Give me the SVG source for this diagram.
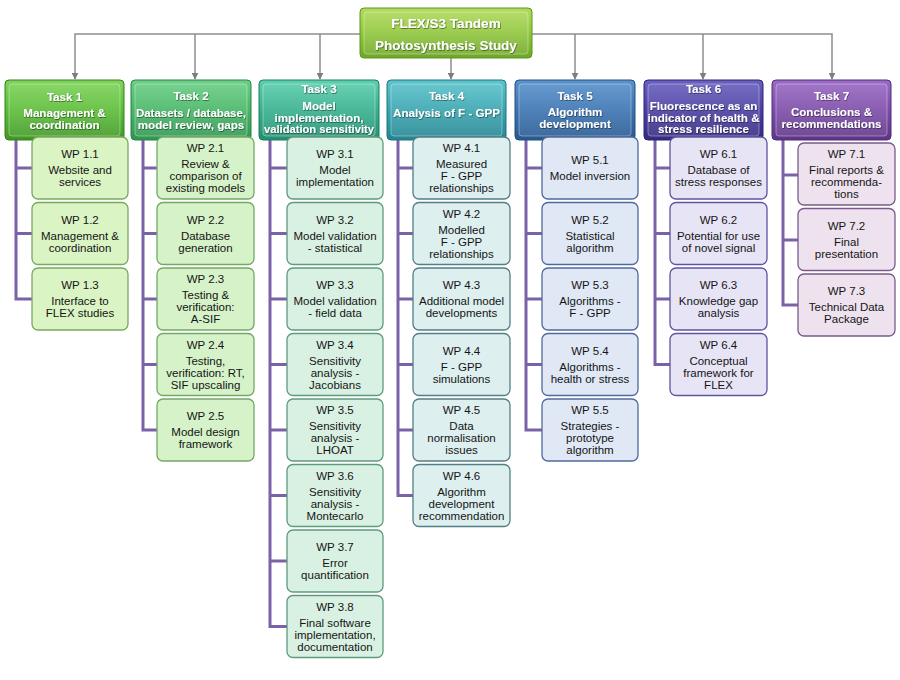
<svg xmlns="http://www.w3.org/2000/svg" width="900" height="680" viewBox="0 0 900 680">
<defs>
<style>
.tt{font-family:"Liberation Sans",Arial,sans-serif;font-weight:bold;font-size:11.6px;fill:#fff;text-anchor:middle}
.rt{font-family:"Liberation Sans",Arial,sans-serif;font-weight:bold;font-size:13.5px;fill:#fff;text-anchor:middle}
.wt{font-family:"Liberation Sans",Arial,sans-serif;font-size:11.5px;fill:#151515;text-anchor:middle}
.bev{fill:#fff;fill-opacity:0.10;stroke:#fff;stroke-opacity:0.35;stroke-width:1}
.c1{fill:#daf4c4;stroke:#7aa860}
.c2{fill:#d6f2c8;stroke:#74a866}
.c3{fill:#d9f1e2;stroke:#5e9a7e}
.c4{fill:#ddefef;stroke:#527f86}
.c5{fill:#e0e8f5;stroke:#4f6a9a}
.c6{fill:#e7e4f5;stroke:#5d55a0}
.c7{fill:#eee2ef;stroke:#7a5a8a}
.wp rect{stroke-width:1.3}
.gl{fill:none;stroke:#8e8e8e;stroke-width:1.5}
.pl{fill:none;stroke:#7b62a8;stroke-width:3}
</style>
<marker id="ah" viewBox="0 0 10 10" refX="9" refY="5" markerWidth="7" markerHeight="7" orient="auto" markerUnits="userSpaceOnUse">
<path d="M0,0 L10,5 L0,10 z" fill="#7e7e7e"/>
</marker>
<filter id="sh" x="-10%" y="-10%" width="120%" height="130%"><feDropShadow dx="0.6" dy="0.8" stdDeviation="0.4" flood-color="#000" flood-opacity="0.55"/></filter>
<linearGradient id="g0" x1="0" y1="0" x2="0" y2="1"><stop offset="0" stop-color="#b2dc5c"/><stop offset="0.5" stop-color="#90c63c"/><stop offset="1" stop-color="#6ea628"/></linearGradient>
<linearGradient id="g1" x1="0" y1="0" x2="0" y2="1"><stop offset="0" stop-color="#7ed45a"/><stop offset="0.5" stop-color="#5cbd38"/><stop offset="1" stop-color="#3f9624"/></linearGradient>
<linearGradient id="g2" x1="0" y1="0" x2="0" y2="1"><stop offset="0" stop-color="#6ccf86"/><stop offset="0.5" stop-color="#47b666"/><stop offset="1" stop-color="#2f9550"/></linearGradient>
<linearGradient id="g3" x1="0" y1="0" x2="0" y2="1"><stop offset="0" stop-color="#5ccfae"/><stop offset="0.5" stop-color="#36b08e"/><stop offset="1" stop-color="#238f70"/></linearGradient>
<linearGradient id="g4" x1="0" y1="0" x2="0" y2="1"><stop offset="0" stop-color="#5cc4cc"/><stop offset="0.5" stop-color="#38a5b0"/><stop offset="1" stop-color="#24848f"/></linearGradient>
<linearGradient id="g5" x1="0" y1="0" x2="0" y2="1"><stop offset="0" stop-color="#5a92cc"/><stop offset="0.5" stop-color="#3a74b2"/><stop offset="1" stop-color="#275890"/></linearGradient>
<linearGradient id="g6" x1="0" y1="0" x2="0" y2="1"><stop offset="0" stop-color="#6a60c0"/><stop offset="0.5" stop-color="#4a3fa2"/><stop offset="1" stop-color="#342a80"/></linearGradient>
<linearGradient id="g7" x1="0" y1="0" x2="0" y2="1"><stop offset="0" stop-color="#9a6ac6"/><stop offset="0.5" stop-color="#7c4ca8"/><stop offset="1" stop-color="#5e3488"/></linearGradient>
</defs>
<rect width="900" height="680" fill="#ffffff"/>

<g id="connectors">
<path class="gl" d="M360,34 H75 V79"  marker-end="url(#ah)"/>
<path class="gl" d="M195,34 V79" marker-end="url(#ah)"/>
<path class="gl" d="M320,34 V79" marker-end="url(#ah)"/>
<path class="gl" d="M451,58 V79" marker-end="url(#ah)"/>
<path class="gl" d="M532,34 H832 V79" marker-end="url(#ah)"/>
<path class="gl" d="M575,34 V79" marker-end="url(#ah)"/>
<path class="gl" d="M703,34 V79" marker-end="url(#ah)"/>
<path class="pl" d="M16,140 V299 H32 M16,168 H32 M16,233.5 H32"/>
<path class="pl" d="M143,140 V430 H157 M143,168 H157 M143,233.5 H157 M143,299 H157 M143,364.5 H157"/>
<path class="pl" d="M270,140 V626.5 H287 M270,168 H287 M270,233.5 H287 M270,299 H287 M270,364.5 H287 M270,430 H287 M270,495.5 H287 M270,561 H287"/>
<path class="pl" d="M398,140 V495.5 H413 M398,168 H413 M398,233.5 H413 M398,299 H413 M398,364.5 H413 M398,430 H413"/>
<path class="pl" d="M526,140 V430 H542 M526,168 H542 M526,233.5 H542 M526,299 H542 M526,364.5 H542"/>
<path class="pl" d="M655,140 V364.5 H670 M655,168 H670 M655,233.5 H670 M655,299 H670"/>
<path class="pl" d="M783,140 V305 H798 M783,175 H798 M783,240 H798"/>
</g>

<g id="root">
<rect x="360" y="8" width="172" height="50" rx="4" fill="url(#g0)" stroke="#5f9422" stroke-width="1"/>
<rect class="bev" x="364" y="12" width="164" height="42" rx="3"/>
<text class="rt" x="446" y="28" filter="url(#sh)">FLEX/S3 Tandem</text>
<text class="rt" x="446" y="50" filter="url(#sh)">Photosynthesis Study</text>
</g>

<g id="task1">
<rect x="5" y="80" width="119" height="60" rx="4" fill="url(#g1)" stroke="#34801c"/>
<rect class="bev" x="9" y="84" width="111" height="52" rx="3"/>
<text class="tt" x="64.5" y="100.5" filter="url(#sh)">Task 1</text>
<text class="tt" x="64.5" y="117" filter="url(#sh)">Management &amp;</text>
<text class="tt" x="64.5" y="129" filter="url(#sh)">coordination</text>
</g>
<g id="task2">
<rect x="131" y="80" width="120" height="60" rx="4" fill="url(#g2)" stroke="#2a8246"/>
<rect class="bev" x="135" y="84" width="112" height="52" rx="3"/>
<text class="tt" x="191" y="100" filter="url(#sh)">Task 2</text>
<text class="tt" x="191" y="117" filter="url(#sh)" textLength="110" lengthAdjust="spacingAndGlyphs">Datasets / database,</text>
<text class="tt" x="191" y="129" filter="url(#sh)">model review, gaps</text>
</g>
<g id="task3">
<rect x="259" y="80" width="120" height="60" rx="4" fill="url(#g3)" stroke="#1f7c62"/>
<rect class="bev" x="263" y="84" width="112" height="52" rx="3"/>
<text class="tt" x="319" y="93" filter="url(#sh)">Task 3</text>
<text class="tt" x="319" y="110" filter="url(#sh)">Model</text>
<text class="tt" x="319" y="121.5" filter="url(#sh)">implementation,</text>
<text class="tt" x="319" y="133" filter="url(#sh)" textLength="110" lengthAdjust="spacingAndGlyphs">validation sensitivity</text>
</g>
<g id="task4">
<rect x="387" y="80" width="119" height="60" rx="4" fill="url(#g4)" stroke="#1f7480"/>
<rect class="bev" x="391" y="84" width="111" height="52" rx="3"/>
<text class="tt" x="446.5" y="100" filter="url(#sh)">Task 4</text>
<text class="tt" x="446.5" y="117" filter="url(#sh)">Analysis of F - GPP</text>
</g>
<g id="task5">
<rect x="515" y="80" width="120" height="60" rx="4" fill="url(#g5)" stroke="#224e80"/>
<rect class="bev" x="519" y="84" width="112" height="52" rx="3"/>
<text class="tt" x="575" y="100" filter="url(#sh)">Task 5</text>
<text class="tt" x="575" y="116" filter="url(#sh)">Algorithm</text>
<text class="tt" x="575" y="128" filter="url(#sh)">development</text>
</g>
<g id="task6">
<rect x="644" y="80" width="119" height="60" rx="4" fill="url(#g6)" stroke="#2c2370"/>
<rect class="bev" x="648" y="84" width="111" height="52" rx="3"/>
<text class="tt" x="703.5" y="93" filter="url(#sh)">Task 6</text>
<text class="tt" x="703.5" y="110" filter="url(#sh)">Fluorescence as an</text>
<text class="tt" x="703.5" y="121.5" filter="url(#sh)">indicator of health &amp;</text>
<text class="tt" x="703.5" y="133" filter="url(#sh)">stress resilience</text>
</g>
<g id="task7">
<rect x="772" y="80" width="119" height="60" rx="4" fill="url(#g7)" stroke="#512c78"/>
<rect class="bev" x="776" y="84" width="111" height="52" rx="3"/>
<text class="tt" x="831.5" y="100" filter="url(#sh)">Task 7</text>
<text class="tt" x="831.5" y="116" filter="url(#sh)">Conclusions &amp;</text>
<text class="tt" x="831.5" y="128" filter="url(#sh)">recommendations</text>
</g>

<!-- Column 1 -->
<g id="wp1-1" class="wp"><rect class="c1" x="32" y="137" width="96" height="62" rx="6"/>
<text class="wt" x="80" y="158">WP 1.1</text><text class="wt" x="80" y="174">Website and</text><text class="wt" x="80" y="186">services</text></g>
<g id="wp1-2" class="wp"><rect class="c1" x="32" y="202.5" width="96" height="62" rx="6"/>
<text class="wt" x="80" y="223.5">WP 1.2</text><text class="wt" x="80" y="239.5">Management &amp;</text><text class="wt" x="80" y="251.5">coordination</text></g>
<g id="wp1-3" class="wp"><rect class="c1" x="32" y="268" width="96" height="62" rx="6"/>
<text class="wt" x="80" y="289">WP 1.3</text><text class="wt" x="80" y="305">Interface to</text><text class="wt" x="80" y="317">FLEX studies</text></g>

<!-- Column 2 -->
<g id="wp2-1" class="wp"><rect class="c2" x="157" y="137" width="97" height="62" rx="6"/>
<text class="wt" x="205.5" y="152">WP 2.1</text><text class="wt" x="205.5" y="168">Review &amp;</text><text class="wt" x="205.5" y="180">comparison of</text><text class="wt" x="205.5" y="192">existing models</text></g>
<g id="wp2-2" class="wp"><rect class="c2" x="157" y="202.5" width="97" height="62" rx="6"/>
<text class="wt" x="205.5" y="223.5">WP 2.2</text><text class="wt" x="205.5" y="239.5">Database</text><text class="wt" x="205.5" y="251.5">generation</text></g>
<g id="wp2-3" class="wp"><rect class="c2" x="157" y="268" width="97" height="62" rx="6"/>
<text class="wt" x="205.5" y="283">WP 2.3</text><text class="wt" x="205.5" y="299">Testing &amp;</text><text class="wt" x="205.5" y="311">verification:</text><text class="wt" x="205.5" y="323">A-SIF</text></g>
<g id="wp2-4" class="wp"><rect class="c2" x="157" y="333.5" width="97" height="62" rx="6"/>
<text class="wt" x="205.5" y="348.5">WP 2.4</text><text class="wt" x="205.5" y="364.5">Testing,</text><text class="wt" x="205.5" y="376.5">verification: RT,</text><text class="wt" x="205.5" y="388.5">SIF upscaling</text></g>
<g id="wp2-5" class="wp"><rect class="c2" x="157" y="399" width="97" height="62" rx="6"/>
<text class="wt" x="205.5" y="420">WP 2.5</text><text class="wt" x="205.5" y="436">Model design</text><text class="wt" x="205.5" y="448">framework</text></g>

<!-- Column 3 -->
<g id="wp3-1" class="wp"><rect class="c3" x="287" y="137" width="96" height="62" rx="6"/>
<text class="wt" x="335" y="158">WP 3.1</text><text class="wt" x="335" y="174">Model</text><text class="wt" x="335" y="186">implementation</text></g>
<g id="wp3-2" class="wp"><rect class="c3" x="287" y="202.5" width="96" height="62" rx="6"/>
<text class="wt" x="335" y="223.5">WP 3.2</text><text class="wt" x="335" y="239.5">Model validation</text><text class="wt" x="335" y="251.5">- statistical</text></g>
<g id="wp3-3" class="wp"><rect class="c3" x="287" y="268" width="96" height="62" rx="6"/>
<text class="wt" x="335" y="289">WP 3.3</text><text class="wt" x="335" y="305">Model validation</text><text class="wt" x="335" y="317">- field data</text></g>
<g id="wp3-4" class="wp"><rect class="c3" x="287" y="333.5" width="96" height="62" rx="6"/>
<text class="wt" x="335" y="348.5">WP 3.4</text><text class="wt" x="335" y="364.5">Sensitivity</text><text class="wt" x="335" y="376.5">analysis -</text><text class="wt" x="335" y="388.5">Jacobians</text></g>
<g id="wp3-5" class="wp"><rect class="c3" x="287" y="399" width="96" height="62" rx="6"/>
<text class="wt" x="335" y="414">WP 3.5</text><text class="wt" x="335" y="430">Sensitivity</text><text class="wt" x="335" y="442">analysis -</text><text class="wt" x="335" y="454">LHOAT</text></g>
<g id="wp3-6" class="wp"><rect class="c3" x="287" y="464.5" width="96" height="62" rx="6"/>
<text class="wt" x="335" y="479.5">WP 3.6</text><text class="wt" x="335" y="495.5">Sensitivity</text><text class="wt" x="335" y="507.5">analysis -</text><text class="wt" x="335" y="519.5">Montecarlo</text></g>
<g id="wp3-7" class="wp"><rect class="c3" x="287" y="530" width="96" height="62" rx="6"/>
<text class="wt" x="335" y="551">WP 3.7</text><text class="wt" x="335" y="567">Error</text><text class="wt" x="335" y="579">quantification</text></g>
<g id="wp3-8" class="wp"><rect class="c3" x="287" y="595.5" width="96" height="62" rx="6"/>
<text class="wt" x="335" y="610.5">WP 3.8</text><text class="wt" x="335" y="626.5">Final software</text><text class="wt" x="335" y="638.5">implementation,</text><text class="wt" x="335" y="650.5">documentation</text></g>

<!-- Column 4 -->
<g id="wp4-1" class="wp"><rect class="c4" x="413" y="137" width="97" height="62" rx="6"/>
<text class="wt" x="461.5" y="152">WP 4.1</text><text class="wt" x="461.5" y="168">Measured</text><text class="wt" x="461.5" y="180">F - GPP</text><text class="wt" x="461.5" y="192">relationships</text></g>
<g id="wp4-2" class="wp"><rect class="c4" x="413" y="202.5" width="97" height="62" rx="6"/>
<text class="wt" x="461.5" y="217.5">WP 4.2</text><text class="wt" x="461.5" y="233.5">Modelled</text><text class="wt" x="461.5" y="245.5">F - GPP</text><text class="wt" x="461.5" y="257.5">relationships</text></g>
<g id="wp4-3" class="wp"><rect class="c4" x="413" y="268" width="97" height="62" rx="6"/>
<text class="wt" x="461.5" y="289">WP 4.3</text><text class="wt" x="461.5" y="305">Additional model</text><text class="wt" x="461.5" y="317">developments</text></g>
<g id="wp4-4" class="wp"><rect class="c4" x="413" y="333.5" width="97" height="62" rx="6"/>
<text class="wt" x="461.5" y="354.5">WP 4.4</text><text class="wt" x="461.5" y="370.5">F - GPP</text><text class="wt" x="461.5" y="382.5">simulations</text></g>
<g id="wp4-5" class="wp"><rect class="c4" x="413" y="399" width="97" height="62" rx="6"/>
<text class="wt" x="461.5" y="414">WP 4.5</text><text class="wt" x="461.5" y="430">Data</text><text class="wt" x="461.5" y="442">normalisation</text><text class="wt" x="461.5" y="454">issues</text></g>
<g id="wp4-6" class="wp"><rect class="c4" x="413" y="464.5" width="97" height="62" rx="6"/>
<text class="wt" x="461.5" y="479.5">WP 4.6</text><text class="wt" x="461.5" y="495.5">Algorithm</text><text class="wt" x="461.5" y="507.5">development</text><text class="wt" x="461.5" y="519.5">recommendation</text></g>

<!-- Column 5 -->
<g id="wp5-1" class="wp"><rect class="c5" x="542" y="137" width="96" height="62" rx="6"/>
<text class="wt" x="590" y="164">WP 5.1</text><text class="wt" x="590" y="180">Model inversion</text></g>
<g id="wp5-2" class="wp"><rect class="c5" x="542" y="202.5" width="96" height="62" rx="6"/>
<text class="wt" x="590" y="223.5">WP 5.2</text><text class="wt" x="590" y="239.5">Statistical</text><text class="wt" x="590" y="251.5">algorithm</text></g>
<g id="wp5-3" class="wp"><rect class="c5" x="542" y="268" width="96" height="62" rx="6"/>
<text class="wt" x="590" y="289">WP 5.3</text><text class="wt" x="590" y="305">Algorithms -</text><text class="wt" x="590" y="317">F - GPP</text></g>
<g id="wp5-4" class="wp"><rect class="c5" x="542" y="333.5" width="96" height="62" rx="6"/>
<text class="wt" x="590" y="354.5">WP 5.4</text><text class="wt" x="590" y="370.5">Algorithms -</text><text class="wt" x="590" y="382.5">health or stress</text></g>
<g id="wp5-5" class="wp"><rect class="c5" x="542" y="399" width="96" height="62" rx="6"/>
<text class="wt" x="590" y="414">WP 5.5</text><text class="wt" x="590" y="430">Strategies -</text><text class="wt" x="590" y="442">prototype</text><text class="wt" x="590" y="454">algorithm</text></g>

<!-- Column 6 -->
<g id="wp6-1" class="wp"><rect class="c6" x="670" y="137" width="97" height="62" rx="6"/>
<text class="wt" x="718.5" y="158">WP 6.1</text><text class="wt" x="718.5" y="174">Database of</text><text class="wt" x="718.5" y="186">stress responses</text></g>
<g id="wp6-2" class="wp"><rect class="c6" x="670" y="202.5" width="97" height="62" rx="6"/>
<text class="wt" x="718.5" y="223.5">WP 6.2</text><text class="wt" x="718.5" y="239.5">Potential for use</text><text class="wt" x="718.5" y="251.5">of novel signal</text></g>
<g id="wp6-3" class="wp"><rect class="c6" x="670" y="268" width="97" height="62" rx="6"/>
<text class="wt" x="718.5" y="289">WP 6.3</text><text class="wt" x="718.5" y="305">Knowledge gap</text><text class="wt" x="718.5" y="317">analysis</text></g>
<g id="wp6-4" class="wp"><rect class="c6" x="670" y="333.5" width="97" height="62" rx="6"/>
<text class="wt" x="718.5" y="348.5">WP 6.4</text><text class="wt" x="718.5" y="364.5">Conceptual</text><text class="wt" x="718.5" y="376.5">framework for</text><text class="wt" x="718.5" y="388.5">FLEX</text></g>

<!-- Column 7 -->
<g id="wp7-1" class="wp"><rect class="c7" x="798" y="143" width="97" height="62" rx="6"/>
<text class="wt" x="846.5" y="158">WP 7.1</text><text class="wt" x="846.5" y="174">Final reports &amp;</text><text class="wt" x="846.5" y="186">recommenda-</text><text class="wt" x="846.5" y="198">tions</text></g>
<g id="wp7-2" class="wp"><rect class="c7" x="798" y="208.5" width="97" height="62" rx="6"/>
<text class="wt" x="846.5" y="229.5">WP 7.2</text><text class="wt" x="846.5" y="245.5">Final</text><text class="wt" x="846.5" y="257.5">presentation</text></g>
<g id="wp7-3" class="wp"><rect class="c7" x="798" y="274" width="97" height="62" rx="6"/>
<text class="wt" x="846.5" y="295">WP 7.3</text><text class="wt" x="846.5" y="311">Technical Data</text><text class="wt" x="846.5" y="323">Package</text></g>
</svg>
